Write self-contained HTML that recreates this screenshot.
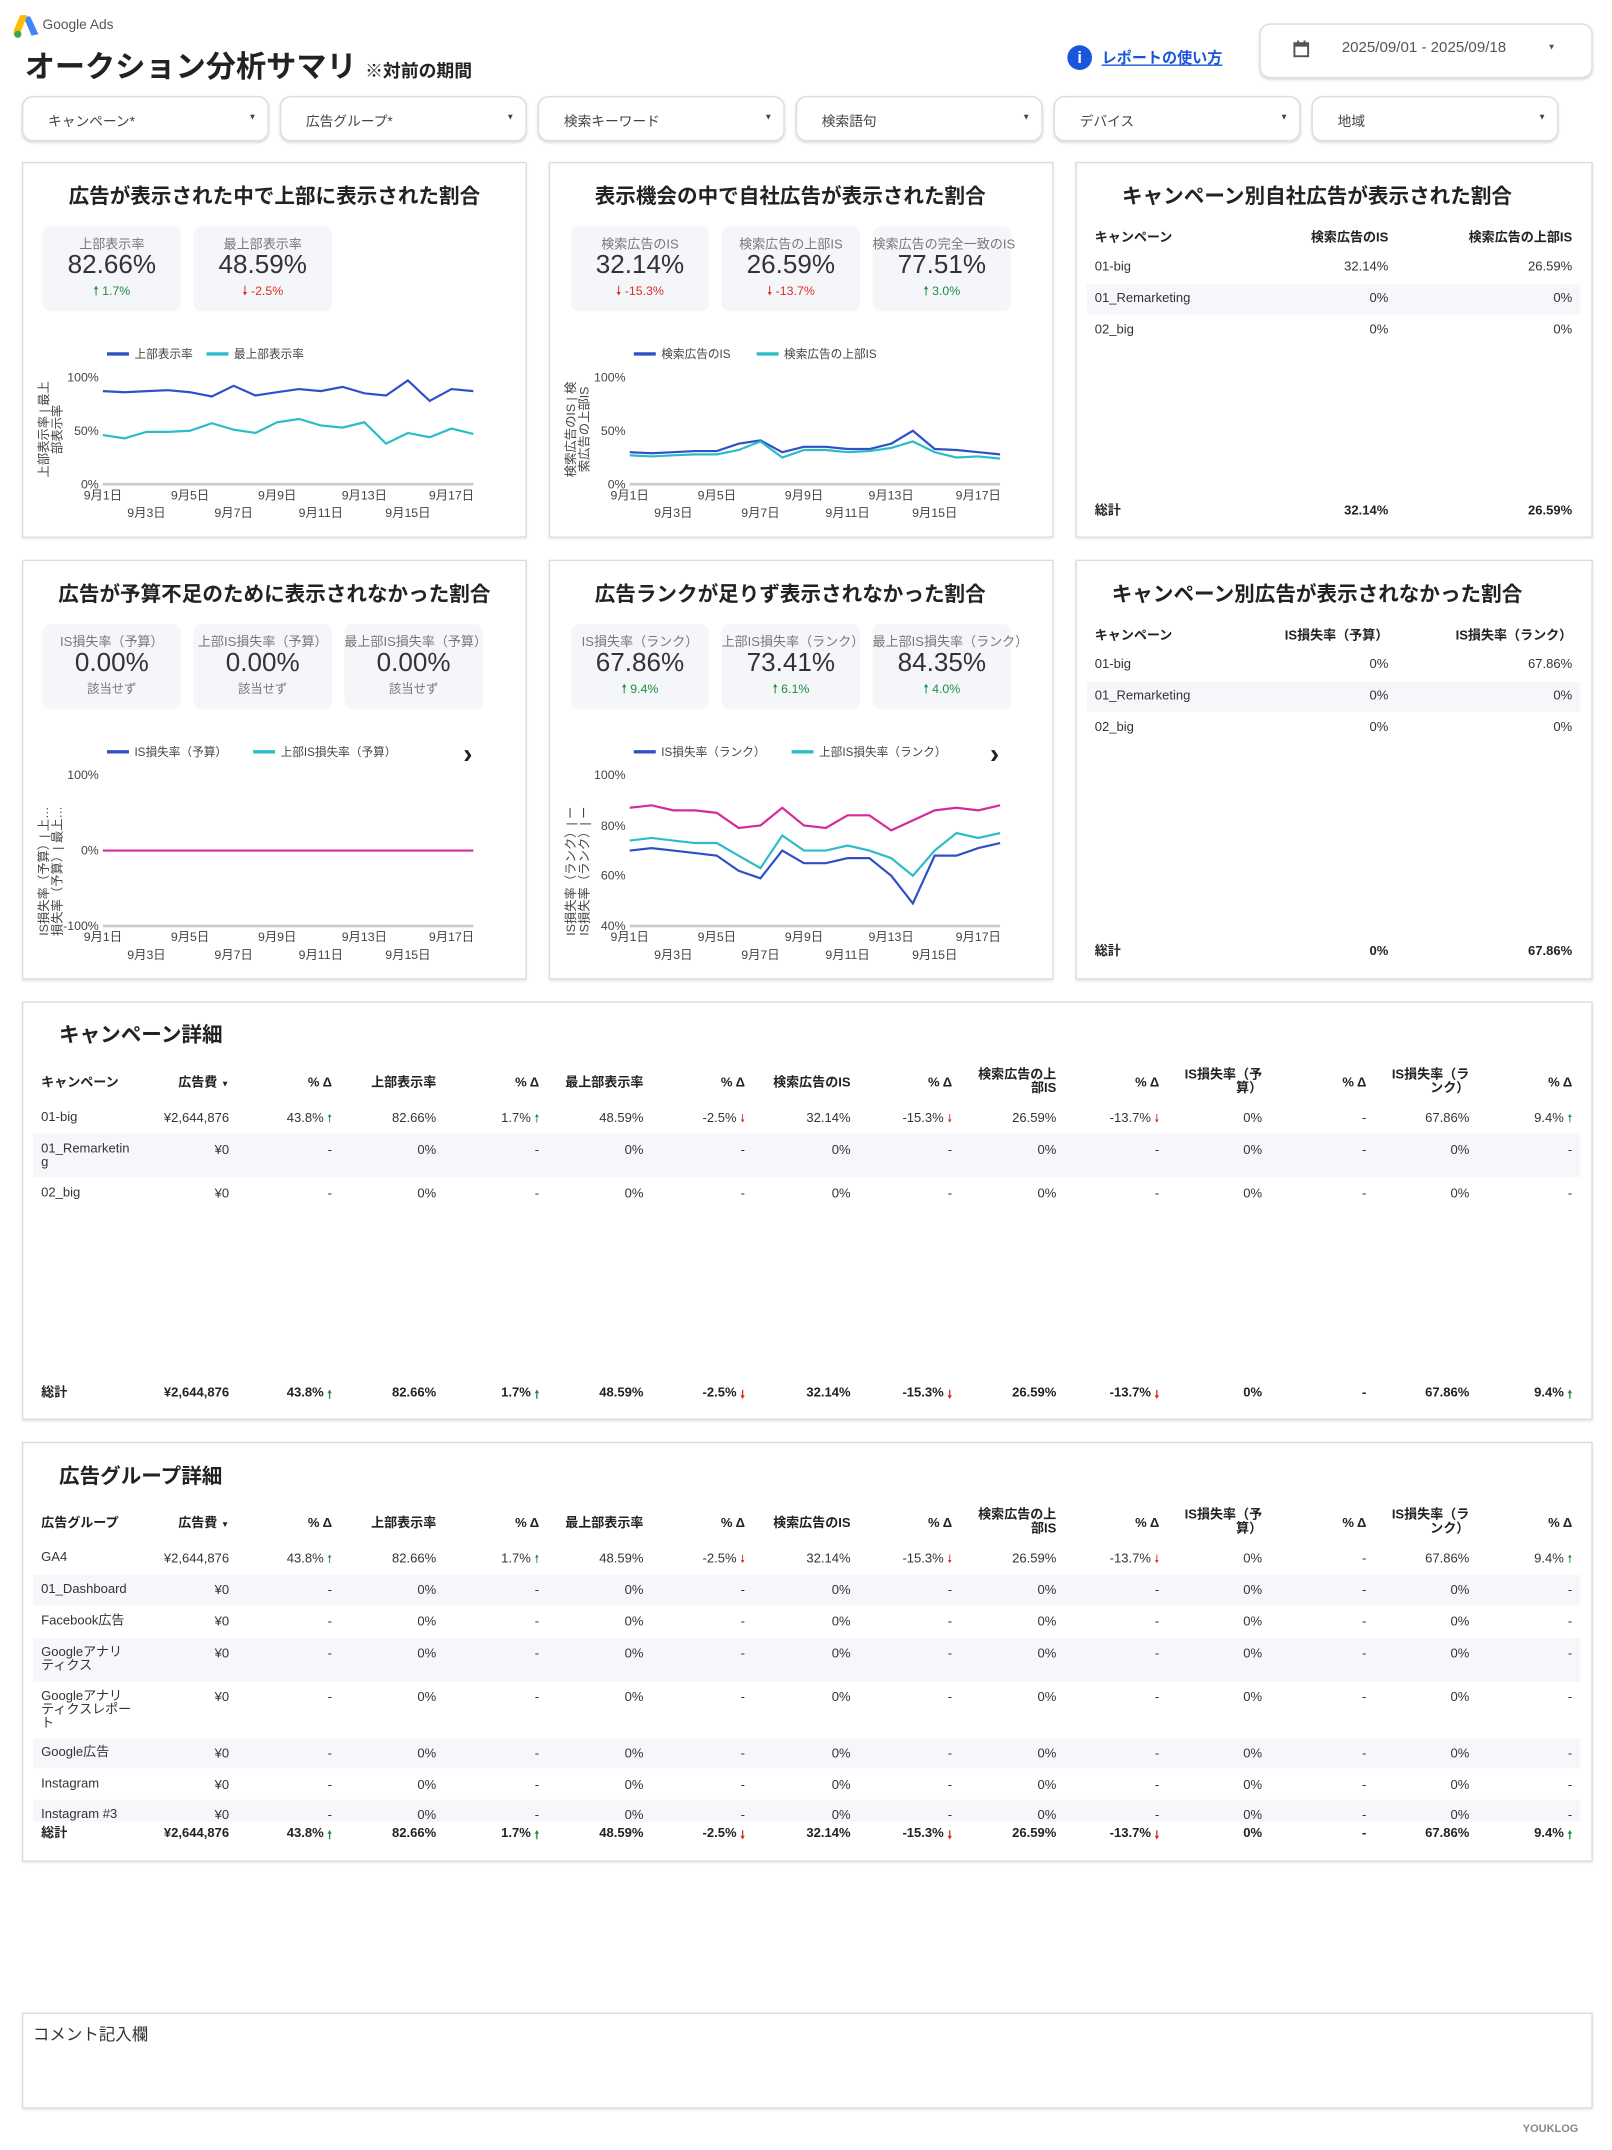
<!DOCTYPE html>
<html><head><meta charset="utf-8">
<style>
html,body{margin:0;padding:0;width:1612px;height:2149px;overflow:hidden;background:#fff;}
#root{position:absolute;left:0;top:0;width:1175px;height:1567px;transform:scale(1.3719);transform-origin:0 0;font-family:"Liberation Sans","Noto Sans CJK JP",sans-serif;color:#222;}
.a{position:absolute;white-space:nowrap;}
.panel{position:absolute;border:1px solid #dcdcdc;box-shadow:0 1px 2px rgba(0,0,0,.12);background:#fff;}
.ptitle{position:absolute;font-size:15px;font-weight:bold;color:#222;}
.card{position:absolute;background:#f4f6fa;border-radius:6px;width:101px;height:62px;text-align:center;}
.card .l{position:absolute;top:5px;left:0;width:101px;font-size:9.5px;color:#777;white-space:nowrap;}
.card .v{position:absolute;top:18px;left:0;width:101px;font-size:19px;color:#333;}
.card .d{position:absolute;top:40px;left:0;width:101px;font-size:9px;}
.g{color:#1e8e3e}.r{color:#d93025}.s{color:#777}
.filter{position:absolute;top:70px;height:31px;width:178px;border:1px solid #dadce0;border-radius:8px;box-shadow:0 1px 2px rgba(0,0,0,.15);font-size:10px;color:#444;}
.filter span{position:absolute;left:18px;top:9px;}
.filter i{position:absolute;right:8px;top:12px;font-style:normal;font-size:6px;}
.c{position:absolute;font-size:9.5px;color:#333;text-align:right;white-space:nowrap;line-height:11px;}
.h{font-weight:bold;color:#222;line-height:10px;}
.shade{position:absolute;background:#f5f7fb;}
.ar{font-size:8px;line-height:11px;display:inline-block;vertical-align:top;}
</style></head><body>
<div id="root">
<svg class="a" style="left:10px;top:11px" width="20" height="17" viewBox="0 0 20 17"><path d="M7 1 L12 1 L18 14 L13 15 Z" fill="#4285f4"/><path d="M7 1 L2 13" stroke="#fbbc04" stroke-width="5" stroke-linecap="round"/><circle cx="3" cy="14" r="2.6" fill="#34a853"/></svg>
<div class="a" style="left:31px;top:13px;font-size:10px;color:#555;">Google Ads</div>
<div class="a" style="left:18px;top:31px;font-size:22px;font-weight:bold;color:#222;">オークション分析サマリ <span style="font-size:13px;">※対前の期間</span></div>
<div class="a" style="left:778px;top:33px;width:18px;height:18px;border-radius:50%;background:#1a56db;color:#fff;font-size:12px;font-weight:bold;text-align:center;line-height:18px;">i</div>
<div class="a" style="left:803px;top:34px;font-size:11px;color:#1a56db;text-decoration:underline;font-weight:bold;">レポートの使い方</div>
<div class="a" style="left:918px;top:17px;width:241px;height:38px;border:1px solid #dadce0;border-radius:8px;box-shadow:0 1px 2px rgba(0,0,0,.15);"></div>
<svg class="a" style="left:942px;top:29px" width="13" height="13" viewBox="0 0 13 13"><rect x="1.5" y="2.5" width="10" height="9.5" fill="none" stroke="#555" stroke-width="1.4"/><rect x="1.5" y="2.5" width="10" height="2.5" fill="#555"/><rect x="3.5" y="0.5" width="1.4" height="3" fill="#555"/><rect x="8.2" y="0.5" width="1.4" height="3" fill="#555"/></svg>
<div class="a" style="left:978px;top:29px;font-size:11px;color:#555;">2025/09/01 - 2025/09/18</div>
<div class="a" style="left:1128px;top:32px;font-size:6px;color:#555;">▼</div>
<div class="filter" style="left:16px"><span>キャンペーン*</span><i>▼</i></div>
<div class="filter" style="left:204px"><span>広告グループ*</span><i>▼</i></div>
<div class="filter" style="left:392px"><span>検索キーワード</span><i>▼</i></div>
<div class="filter" style="left:580px"><span>検索語句</span><i>▼</i></div>
<div class="filter" style="left:768px"><span>デバイス</span><i>▼</i></div>
<div class="filter" style="left:956px"><span>地域</span><i>▼</i></div>

<div class="panel" style="left:16px;top:118px;width:366px;height:272px;"></div>
<div class="panel" style="left:400px;top:118px;width:366px;height:272px;"></div>
<div class="panel" style="left:784px;top:118px;width:375px;height:272px;"></div>
<div class="panel" style="left:16px;top:408px;width:366px;height:304px;"></div>
<div class="panel" style="left:400px;top:408px;width:366px;height:304px;"></div>
<div class="panel" style="left:784px;top:408px;width:375px;height:304px;"></div>
<div class="panel" style="left:16px;top:730px;width:1143px;height:303px;"></div>
<div class="panel" style="left:16px;top:1051px;width:1143px;height:304px;"></div>
<div class="panel" style="left:16px;top:1467px;width:1143px;height:68px;"></div>
<div class="a" style="left:24px;top:1474px;font-size:12px;color:#333;">コメント記入欄</div>
<div class="a" style="left:1110px;top:1547px;font-size:8px;color:#888;font-weight:bold;">YOUKLOG</div>

<div class="ptitle" style="left:16px;width:368px;text-align:center;top:132px;">広告が表示された中で上部に表示された割合</div>
<div class="ptitle" style="left:400px;width:352px;text-align:center;top:132px;">表示機会の中で自社広告が表示された割合</div>
<div class="ptitle" style="left:784px;width:352px;text-align:center;top:132px;">キャンペーン別自社広告が表示された割合</div>
<div class="ptitle" style="left:16px;width:368px;text-align:center;top:422px;">広告が予算不足のために表示されなかった割合</div>
<div class="ptitle" style="left:400px;width:352px;text-align:center;top:422px;">広告ランクが足りず表示されなかった割合</div>
<div class="ptitle" style="left:784px;width:352px;text-align:center;top:422px;">キャンペーン別広告が表示されなかった割合</div>

<div class="card" style="left:31px;top:165px"><div class="l">上部表示率</div><div class="v">82.66%</div><div class="d g">🠕 1.7%</div></div>
<div class="card" style="left:141px;top:165px"><div class="l">最上部表示率</div><div class="v">48.59%</div><div class="d r">🠗 -2.5%</div></div>
<div class="card" style="left:416px;top:165px"><div class="l">検索広告のIS</div><div class="v">32.14%</div><div class="d r">🠗 -15.3%</div></div>
<div class="card" style="left:526px;top:165px"><div class="l">検索広告の上部IS</div><div class="v">26.59%</div><div class="d r">🠗 -13.7%</div></div>
<div class="card" style="left:636px;top:165px"><div class="l">検索広告の完全一致のIS</div><div class="v">77.51%</div><div class="d g">🠕 3.0%</div></div>
<div class="card" style="left:31px;top:455px"><div class="l">IS損失率（予算）</div><div class="v">0.00%</div><div class="d s">該当せず</div></div>
<div class="card" style="left:141px;top:455px"><div class="l">上部IS損失率（予算）</div><div class="v">0.00%</div><div class="d s">該当せず</div></div>
<div class="card" style="left:251px;top:455px"><div class="l">最上部IS損失率（予算）</div><div class="v">0.00%</div><div class="d s">該当せず</div></div>
<div class="card" style="left:416px;top:455px"><div class="l">IS損失率（ランク）</div><div class="v">67.86%</div><div class="d g">🠕 9.4%</div></div>
<div class="card" style="left:526px;top:455px"><div class="l">上部IS損失率（ランク）</div><div class="v">73.41%</div><div class="d g">🠕 6.1%</div></div>
<div class="card" style="left:636px;top:455px"><div class="l">最上部IS損失率（ランク）</div><div class="v">84.35%</div><div class="d g">🠕 4.0%</div></div>

<svg id="charts" class="a" style="left:0;top:0" width="1175" height="1567" font-family="Liberation Sans, Noto Sans CJK JP, sans-serif"></svg>
<div id="tables"></div>
</div>
<script>
var S=document.getElementById('charts'),T=document.getElementById('tables'),h='';
function t(x,y,s,o){o=o||{};h+='<text x="'+x+'" y="'+y+'" font-size="'+(o.fs||9)+'" fill="'+(o.c||'#444')+'" text-anchor="'+(o.a||'middle')+'"'+(o.tr?' transform="'+o.tr+'"':'')+(o.b?' font-weight="bold"':'')+'>'+s+'</text>';}
function chart(x0,ybase,yfn,series,yl,titles,legend,arrow){
  var st=15.88;
  yl.forEach(function(l){t(x0-3,l[1]+3,l[0],{a:'end'});});
  if(arrow!=='nob') h+='<line x1="'+x0+'" x2="'+(x0+270)+'" y1="'+ybase+'" y2="'+ybase+'" stroke="#ccc" stroke-width="2"/>';
  series.forEach(function(s){var p=s.d.map(function(v,i){return (x0+i*st).toFixed(1)+','+yfn(v).toFixed(1);}).join(' ');
    h+='<polyline points="'+p+'" fill="none" stroke="'+s.c+'" stroke-width="1.6"/>';});
  [1,5,9,13,17].forEach(function(d){t(x0+(d-1)*st,ybase+11,'9月'+d+'日');});
  [3,7,11,15].forEach(function(d){t(x0+(d-1)*st,ybase+24,'9月'+d+'日');});
  var cy=ybase-40;
  titles.forEach(function(s,i){t(x0-40+i*10,cy,s,{tr:'rotate(-90 '+(x0-40+i*10)+' '+cy+')'});});
  var lx=x0+3,ly=legend[0];
  legend[1].forEach(function(l){h+='<line x1="'+lx+'" x2="'+(lx+16)+'" y1="'+ly+'" y2="'+ly+'" stroke="'+l[1]+'" stroke-width="2.5"/>';t(lx+20,ly+3,l[0],{a:'start',fs:8.5});lx+=20+l[0].length*8.5+10;});
  if(arrow===true) t(x0+266,ly+8,'›',{fs:20,c:'#222',b:1});
}
var B='#3050c8',C='#2cbcc8',M='#d42a9a';
var f1=function(v){return 353-v*0.78;};
chart(75,353,f1,[{c:B,d:[87,86,87,88,86,82,92,83,86,89,87,91,85,83,97,78,89,87]},{c:C,d:[46,43,49,49,50,57,51,48,58,61,55,53,58,38,48,44,52,47]}],[['100%',275],['50%',314],['0%',353]],['上部表示率 | 最上','部表示率'],[258,[['上部表示率',B],['最上部表示率',C]]]);
chart(459,353,f1,[{c:B,d:[30,29,30,31,31,38,41,30,35,35,33,33,38,50,33,32,30,28]},{c:C,d:[27,26,27,28,28,32,40,25,32,32,30,31,34,40,30,25,26,24]}],[['100%',275],['50%',314],['0%',353]],['検索広告のIS | 検','索広告の上部IS'],[258,[['検索広告のIS',B],['検索広告の上部IS',C]]]);
var f4=function(v){return 620-v*0.55;};
chart(75,675,f4,[{c:M,d:[0,0,0,0,0,0,0,0,0,0,0,0,0,0,0,0,0,0]}],[['100%',565],['0%',620],['-100%',675]],['IS損失率（予算）| 上…','損失率（予算）| 最上…'],[548,[['IS損失率（予算）',B],['上部IS損失率（予算）',C]]],true);
var f5=function(v){return 675-(v-40)*110/60;};
chart(459,675,f5,[{c:M,d:[87,88,86,86,85,79,80,87,80,79,84,84,78,82,86,87,86,88]},{c:C,d:[74,75,74,73,73,68,63,76,70,70,72,70,67,60,70,77,75,77]},{c:B,d:[70,71,70,69,68,62,59,70,65,65,67,67,60,49,68,68,71,73]}],[['100%',565],['80%',602],['60%',638],['40%',675]],['IS損失率（ランク）| ー','IS損失率（ランク）| ー'],[548,[['IS損失率（ランク）',B],['上部IS損失率（ランク）',C]]],true);
S.innerHTML=h;

var th='';
function cell(x,y,w,s,cls,al){th+='<div class="c '+(cls||'')+'" style="left:'+x+'px;top:'+y+'px;width:'+w+'px;text-align:'+(al||'right')+'">'+s+'</div>';}
function shade(x,y,w,hh){th+='<div class="shade" style="left:'+x+'px;top:'+y+'px;width:'+w+'px;height:'+hh+'px"></div>';}
function small(y0,hdr,rows,tot,ty){
  shade(792,y0+38,360,22);
  cell(798,y0,80,hdr[0],'h','left');cell(912,y0,100,hdr[1],'h');cell(1046,y0,100,hdr[2],'h');
  rows.forEach(function(r,i){var y=y0+20+i*23;cell(798,y,100,r[0],'','left');cell(912,y,100,r[1]);cell(1046,y,100,r[2]);});
  cell(798,ty,80,'総計','h','left');cell(912,ty,100,tot[0],'h');cell(1046,ty,100,tot[1],'h');
}
small(169,['キャンペーン','検索広告のIS','検索広告の上部IS'],[['01-big','32.14%','26.59%'],['01_Remarketing','0%','0%'],['02_big','0%','0%']],['32.14%','26.59%'],368);
small(459,['キャンペーン','IS損失率（予算）','IS損失率（ランク）'],[['01-big','0%','67.86%'],['01_Remarketing','0%','0%'],['02_big','0%','0%']],['0%','67.86%'],689);
var R=[167,242,318,393,469,543,620,694,770,845,920,996,1071,1146];
var up='<span class="g ar">🠕</span>',dn='<span class="r ar">🠗</span>';
var big=['¥2,644,876','43.8% '+up,'82.66%','1.7% '+up,'48.59%','-2.5% '+dn,'32.14%','-15.3% '+dn,'26.59%','-13.7% '+dn,'0%','-','67.86%','9.4% '+up];
var zero=['¥0','-','0%','-','0%','-','0%','-','0%','-','0%','-','0%','-'];
var HD=['広告費 <span style="font-size:6px">▼</span>','% Δ','上部表示率','% Δ','最上部表示率','% Δ','検索広告のIS','% Δ','検索広告の上<br>部IS','% Δ','IS損失率（予<br>算）','% Δ','IS損失率（ラ<br>ンク）','% Δ'];
function bigt(y0,first,rows,ty){
  cell(30,y0,80,first,'h','left');
  HD.forEach(function(s,i){var two=s.indexOf('<br>')>0;cell(R[i]-80,two?y0-6:y0,80,s,'h');});
  rows.forEach(function(r){ if(r.sh) shade(24,r.sh[0],1128,r.sh[1]);
    th+='<div class="c" style="left:30px;top:'+r.y+'px;width:66px;text-align:left;white-space:normal;line-height:10px;word-break:break-all">'+r.n+'</div>';
    r.v.forEach(function(s,i){cell(R[i]-90,r.y,90,s);});});
  cell(30,ty,60,'総計','h','left');
  big.forEach(function(s,i){cell(R[i]-90,ty,90,s,'h');});
}
bigt(785,'キャンペーン',[{n:'01-big',y:810,v:big},{n:'01_Remarketing',y:833,v:zero,sh:[826,32]},{n:'02_big',y:865,v:zero}],1011);
bigt(1106,'広告グループ',[{n:'GA4',y:1131,v:big},{n:'01_Dashboard',y:1154,v:zero,sh:[1148,22]},{n:'Facebook広告',y:1177,v:zero},{n:'Googleアナリティクス',y:1200,v:zero,sh:[1194,32]},{n:'Googleアナリティクスレポート',y:1232,v:zero},{n:'Google広告',y:1273,v:zero,sh:[1267,22]},{n:'Instagram',y:1296,v:zero},{n:'Instagram #3',y:1318,v:zero,sh:[1312,16]}],1332);
th+='<div class="ptitle" style="left:43px;top:743px;">キャンペーン詳細</div><div class="ptitle" style="left:43px;top:1065px;">広告グループ詳細</div>';
T.innerHTML=th;
</script>
</body></html>
